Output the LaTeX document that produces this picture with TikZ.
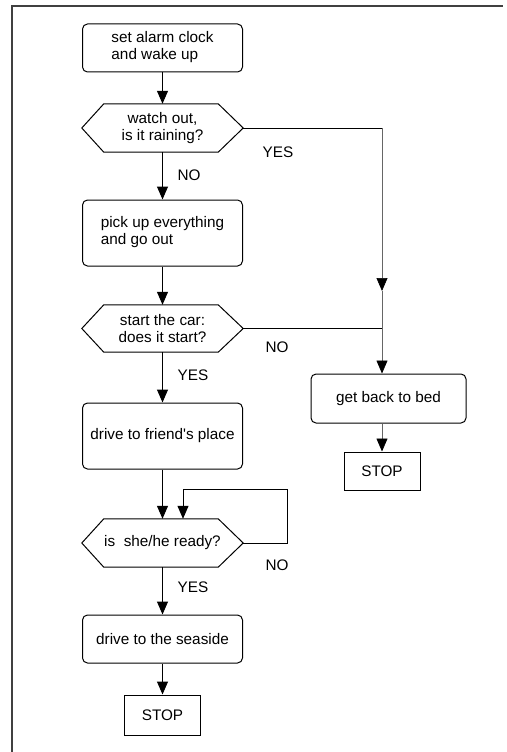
\documentclass[tikz,border=0pt]{standalone}
\usepackage{fontspec}
\setmainfont{Liberation Sans}[Ligatures=TeXOff]
\usetikzlibrary{arrows.meta,calc}
\begin{document}
\begin{tikzpicture}[x=1pt,y=-1pt,
  every node/.style={font=\fontsize{15.3}{17}\selectfont, inner sep=0pt},
  procbox/.style={draw, rounded corners=5pt, line width=1pt, minimum width=160pt, align=center},
  hexnode/.style={minimum width=161pt, align=center},
  stopbox/.style={draw, line width=1pt, minimum width=76pt, minimum height=40pt},
  lbl/.style={},
  flow/.style={line width=1pt},
  arr/.style={flow, -{Triangle[width=11pt,length=13pt]}},
  thinarr/.style={line width=0.7pt, black!60, -{Triangle[width=11pt,length=13pt,color=black]}},
  frame/.style={line width=2pt, black!75}
]
\useasboundingbox (0,0) rectangle (506,752);
\newcommand\hexdraw[1]{\draw[line width=1pt] (#1.west) -- ([xshift=22pt]#1.north west) -- ([xshift=-25pt]#1.north east) -- (#1.east) -- ([xshift=-25pt]#1.south east) -- ([xshift=22pt]#1.south west) -- cycle;}

% frame (top and left only)
\coordinate (fA) at (12,752);
\coordinate (fB) at (12,6);
\coordinate (fC) at (503,6);
\draw[frame] (fA) -- (fB) -- (fC);

% main column
\node[procbox, minimum height=48pt] (b1) at (162.5,48) {\begin{tabular}{@{}l@{}}set alarm clock\\and wake up\end{tabular}};
\node[hexnode, minimum height=48pt] (h1) at (162.5,128) {watch out,\\is it raining?};
\hexdraw{h1}
\node[procbox, minimum height=66pt] (b2) at (162.5,233) {\begin{tabular}{@{}l@{}}pick up everything\\and go out\end{tabular}};
\node[hexnode, minimum height=47pt] (h2) at (162.5,328.5) {start the car:\\does it start?};
\hexdraw{h2}
\node[procbox, minimum height=66pt] (b3) at (162.5,436) {drive to friend's place};
\node[hexnode, minimum height=48pt] (h4) at (162.5,543) {is\ \ she/he ready?};
\hexdraw{h4}
\node[procbox, minimum height=48pt] (b5) at (162.5,639) {drive to the seaside};
\node[stopbox] (s1) at (162.5,715) {STOP};

% right column
\node[procbox, minimum width=155pt, minimum height=49pt] (bed) at (388.5,398.5) {get back to bed};
\node[stopbox, minimum height=38pt] (s2) at (382,471) {STOP};

% coordinates
\coordinate (r1) at (382,128);
\coordinate (rm) at (382,291);
\coordinate (r2) at (382,328.5);
\coordinate (l1) at (287,543);
\coordinate (l2) at (287,489);
\coordinate (l3) at (183,489);

% connectors
\draw[arr] (b1.south) -- (h1.north);
\draw[arr] (h1.south) -- (b2.north);
\draw[arr] (b2.south) -- (h2.north);
\draw[arr] (h2.south) -- (b3.north);
\draw[arr] (b3.south) -- (h4.north);
\draw[arr] (h4.south) -- (b5.north);
\draw[arr] (b5.south) -- (s1.north);

\draw[line width=0.7pt] (h1.east) -- (r1);
\draw[thinarr] (r1) -- (rm);
\draw[thinarr] (rm) -- (bed.north -| rm);
\draw[line width=0.7pt] (h2.east) -- (r2);
\draw[thinarr] (bed.south -| s2) -- (s2.north);

\draw[arr] (h4.east) -- (l1) -- (l2) -- (l3) -- (l3 |- h4.north);

% labels
\node[lbl] (yes1) at (278,152) {YES};
\node[lbl] (no1) at (189,175) {NO};
\node[lbl] (no2) at (277,347) {NO};
\node[lbl] (yes2) at (193,375) {YES};
\node[lbl] (no4) at (277,565) {NO};
\node[lbl] (yes4) at (193,587) {YES};
\end{tikzpicture}
\end{document}
